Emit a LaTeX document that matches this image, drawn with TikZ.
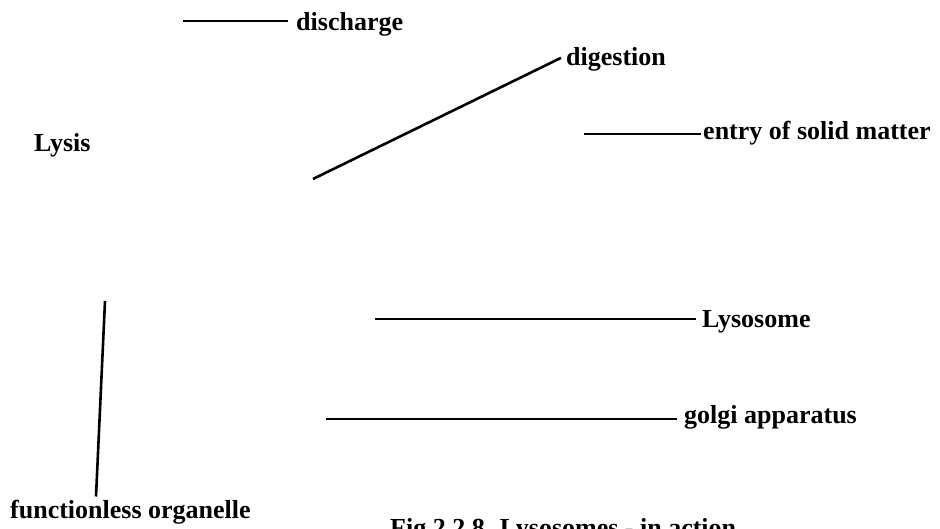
\documentclass[tikz,border=0pt]{standalone}
\usepackage{fontspec}
\setmainfont{Liberation Serif}
\usetikzlibrary{positioning}

\begin{document}
\begin{tikzpicture}[x=1pt,y=-1pt]

% -------------------------------------------------------
% styles
% -------------------------------------------------------
\tikzstyle{lbl} = [font=\fontsize{26}{30}\selectfont\bfseries, inner sep=0pt];
\tikzstyle{pointer} = [line width=2.6pt];

\useasboundingbox (0,0) rectangle (940,529);

%%%%%% LABELS
\node[lbl, anchor=base west] (discharge) at (296,31)  {discharge};
\node[lbl, anchor=base west] (digestion) at (566,66)  {digestion};
\node[lbl, anchor=base west] (lysis)     at (34,152)  {Lysis};
\node[lbl, anchor=base west] (entry)     at (703,140) {entry of solid matter};
\node[lbl, anchor=base west] (lysosome)  at (702,327) {Lysosome};
\node[lbl, anchor=base west] (golgi)     at (684,423) {golgi apparatus};
\node[lbl, anchor=base west] (organelle) at (10,518)  {functionless organelle};
\node[lbl, anchor=base west] (caption)   at (390,536) {Fig 2.2.8. Lysosomes - in action};

%%%%%% POINTER ENDS
\coordinate (pDis) at (183,21);
\coordinate (pDig) at (313,179);
\coordinate (pEnt) at (584,134);
\coordinate (pLys) at (375,319);
\coordinate (pGol) at (326,419);
\coordinate (pOrg) at (105,301);

%%%%%% POINTERS
\draw[pointer, shorten >=8pt] (pDis) -- (pDis -| discharge.west);
\draw[pointer] (pDig) -- ([shift={(-5pt,2pt)}]digestion.west);
\draw[pointer, shorten >=2pt] (pEnt) -- (pEnt -| entry.west);
\draw[pointer, shorten >=6pt] (pLys) -- (pLys -| lysosome.west);
\draw[pointer, shorten >=7pt] (pGol) -- (pGol -| golgi.west);
\draw[pointer] (pOrg) -- ([shift={(86pt,3pt)}]organelle.north west);

\end{tikzpicture}
\end{document}
